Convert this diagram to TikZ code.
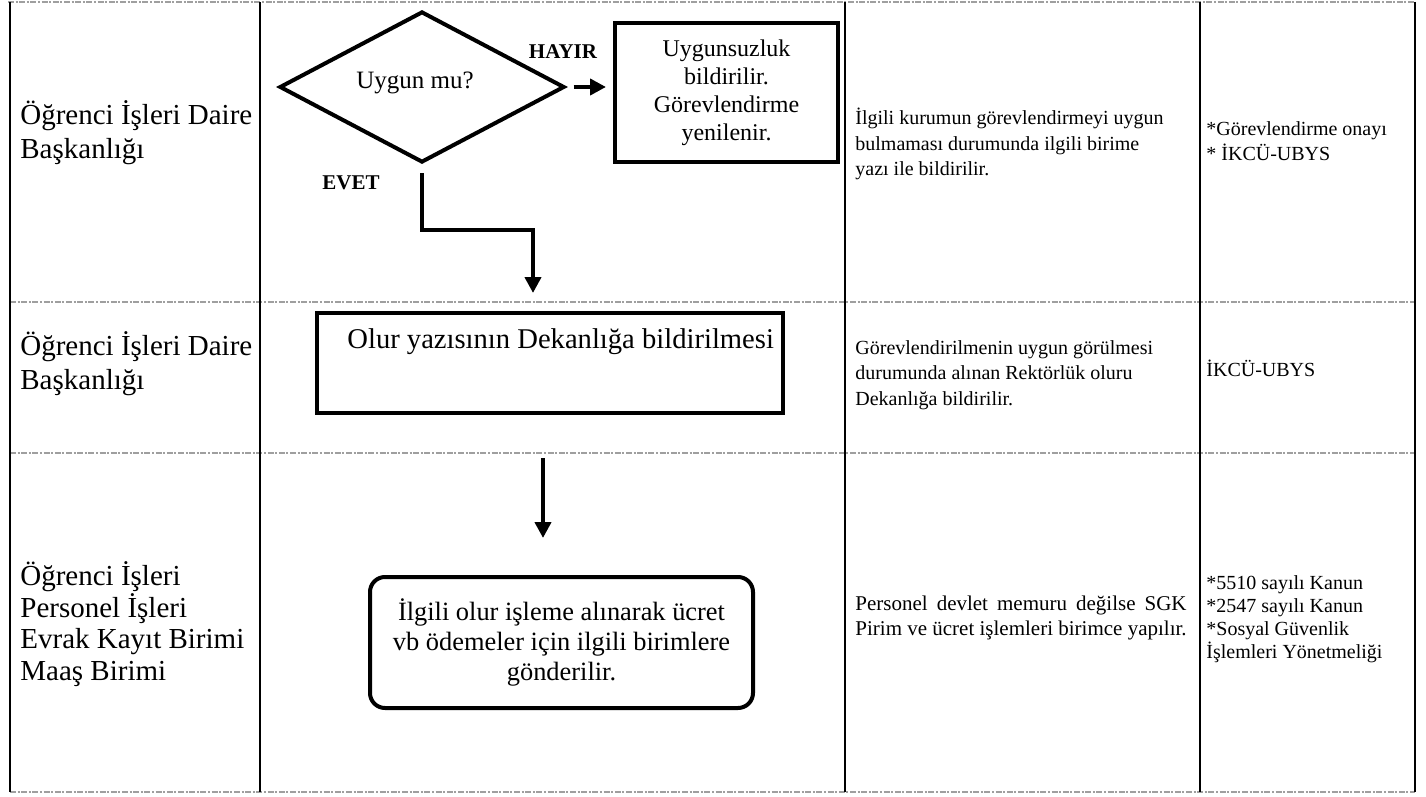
\documentclass[tikz,border=0pt]{standalone}
\usepackage{fontspec}
\setmainfont{Liberation Serif}
\usetikzlibrary{shapes.geometric,arrows.meta,calc}
\newlength\pwidth
\begin{document}
\begin{tikzpicture}[x=0.5pt,y=-0.5pt,
  tline/.style={line width=1.4pt,black},
  rowsep/.style={line width=0.9pt,gray!75,dash pattern=on 3pt off 0.8pt on 1pt off 0.8pt},
  flow/.style={line width=2pt,black},
  arr/.style={flow,-{Triangle[length=8pt,width=8pt]}},
  lbl/.style={anchor=west,align=left,font=\fontsize{14.5}{17}\selectfont,inner sep=0pt},
  desc/.style={anchor=west,align=left,font=\fontsize{10}{12.8}\selectfont,inner sep=0pt},
  yn/.style={font=\bfseries\fontsize{10.5}{12}\selectfont,inner sep=0pt}
]
\useasboundingbox (0,0) rectangle (1426,797);
% table
\draw[rowsep] (8,2) -- (1415,2);
\draw[rowsep] (10,302) -- (1415,302);
\draw[rowsep] (10,453) -- (1415,453);
\draw[rowsep] (10,792) -- (1415,792);
\foreach \xx in {10,260,845,1200,1415}{\draw[tline] (\xx,2) -- (\xx,792);}
% left labels
\node[lbl] (l1) at (20,133) {Öğrenci İşleri Daire\\Başkanlığı};
\node[lbl] (l2) at (20,364) {Öğrenci İşleri Daire\\Başkanlığı};
\node[lbl,font=\fontsize{14.5}{15.8}\selectfont] (l3) at (20,624) {Öğrenci İşleri\\Personel İşleri\\Evrak Kayıt Birimi\\Maaş Birimi};
% flow
\node[draw,flow,diamond,minimum width=142.5pt,minimum height=75.5pt,inner sep=0pt] (d) at (422,87) {};
\node[font=\fontsize{12.5}{14}\selectfont,inner sep=0pt] (dt) at (415,83) {Uygun mu?};
\node[yn] (hay) at (563,52) {HAYIR};
\node[yn] (evet) at (351,183) {EVET};
\node[draw,flow,minimum width=111.5pt,minimum height=69.5pt,align=center,font=\fontsize{12}{14}\selectfont,inner sep=0pt] (b1) at (726.5,92.5) {Uygunsuzluk\\bildirilir.\\Görevlendirme\\yenilenir.};
\draw[arr,shorten <=3.5pt,shorten >=3.5pt] (d.east) -- (d.east -| b1.west);
\node[draw,flow,minimum width=233pt,minimum height=50pt,inner sep=0pt] (b2) at (550,363) {};
\node[anchor=west,font=\fontsize{14.3}{17}\selectfont,inner sep=0pt] (t2) at (347,342) {Olur yazısının Dekanlığa bildirilmesi};
\coordinate (k1) at (533,230);
\draw[arr,shorten <=4.5pt,shorten >=9pt] (d.south) |- (k1) -- (k1 |- b2.north);
\node[draw,flow,rounded corners=7.5pt,minimum width=191.5pt,minimum height=65.5pt,align=center,font=\fontsize{13.2}{15}\selectfont,inner sep=0pt] (b3) at (561.5,642.5) {İlgili olur işleme alınarak ücret\\vb ödemeler için ilgili birimlere\\gönderilir.};
\coordinate (k2) at (543,458);
\draw[arr,shorten >=18.5pt] (k2) -- (k2 |- b3.north);
% descriptions
\node[desc] (c1) at (855,144) {İlgili kurumun görevlendirmeyi uygun\\bulmaması durumunda ilgili birime\\yazı ile bildirilir.};
\node[desc] (c2) at (855,375) {Görevlendirilmenin uygun görülmesi\\durumunda alınan Rektörlük oluru\\Dekanlığa bildirilir.};
\node[desc,font=\fontsize{10.5}{12.8}\selectfont] (c3) at (855,618) {\settowidth{\pwidth}{Pirim ve ücret işlemleri birimce yapılır.}\makebox[\pwidth][s]{Personel devlet memuru değilse SGK}\\Pirim ve ücret işlemleri birimce yapılır.};
% documents
\node[desc] (r1) at (1206,141) {*Görevlendirme onayı\\* İKCÜ-UBYS};
\node[desc] (r2) at (1206,368) {İKCÜ-UBYS};
\node[desc,font=\fontsize{10}{11.5}\selectfont] (r3) at (1206,619) {*5510 sayılı Kanun\\*2547 sayılı Kanun\\*Sosyal Güvenlik\\İşlemleri Yönetmeliği};
\end{tikzpicture}
\end{document}
